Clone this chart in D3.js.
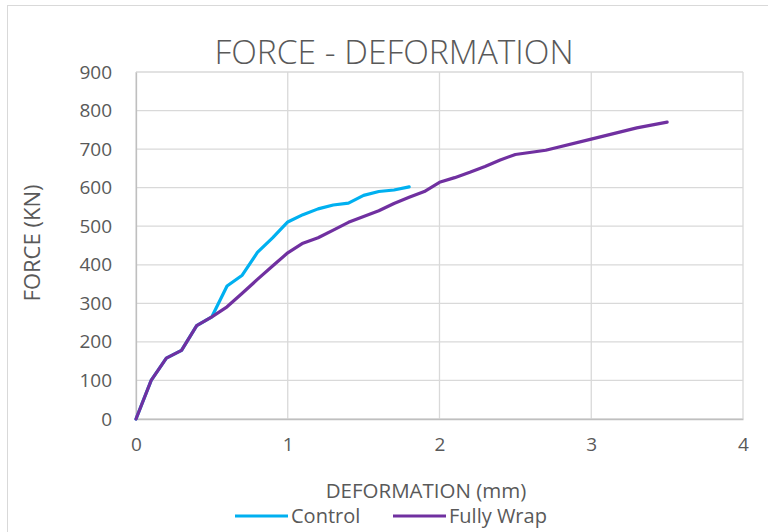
<!DOCTYPE html>
<html>
<head>
<meta charset="utf-8">
<script src="https://cdn.jsdelivr.net/npm/d3@7"></script>
<style>
  body { margin: 0; background: #fff; }
  text { font-family: "Open Sans", sans-serif; fill: #595959; }
</style>
</head>
<body>
<script>
const [width, height] = [768, 532]

// deformation (mm) and force (kN)
const controlDef = [0, 0.1, 0.2, 0.3, 0.4, 0.5, 0.6, 0.7, 0.8, 0.9, 1.0, 1.1, 1.2, 1.3, 1.4, 1.5, 1.6, 1.7, 1.8]
const controlForce = [0, 100, 158, 178, 242, 265, 345, 373, 432, 470, 511, 530, 545, 555, 560, 580, 590, 594, 602]

const wrapDef = [0, 0.1, 0.2, 0.3, 0.4, 0.5, 0.6, 0.7, 0.8, 0.9, 1.0, 1.1, 1.2, 1.3, 1.4, 1.5, 1.6, 1.7, 1.8, 1.9,
  2.0, 2.1, 2.2, 2.3, 2.4, 2.5, 2.7, 3.0, 3.3, 3.5]
const wrapForce = [0, 100, 158, 178, 242, 265, 291, 326, 362, 397, 431, 456, 470, 490, 510, 525, 540, 559, 575, 590,
  614, 626, 640, 655, 672, 686, 697, 726, 755, 770]

const xTicks = [0, 1, 2, 3, 4]
const yTicks = [0, 100, 200, 300, 400, 500, 600, 700, 800, 900]

const seriesNames = ["Control", "Fully Wrap"]
const seriesColors = ["#00b0f0", "#7030a0"]

const svg = d3.select("body")
  .append("svg")
  .attr("width", width)
  .attr("height", height)

// outer chart border
svg.append("rect")
  .attr("x", 7.5).attr("y", 5.5)
  .attr("width", 800).attr("height", 600)
  .attr("fill", "none")
  .attr("stroke", "#d9d9d9")

const x = d3.scaleLinear().domain([0, 4]).range([136, 743])
const y = d3.scaleLinear().domain([0, 900]).range([419, 72])

// gridlines
svg.append("g")
  .selectAll("line.h")
  .data(yTicks)
  .enter()
  .append("line")
    .attr("x1", x(0)).attr("x2", x(4))
    .attr("y1", d => y(d)).attr("y2", d => y(d))
    .attr("stroke", "#d9d9d9")
    .attr("stroke-width", 1.3)

svg.append("g")
  .selectAll("line.v")
  .data(xTicks)
  .enter()
  .append("line")
    .attr("x1", d => x(d)).attr("x2", d => x(d))
    .attr("y1", y(0)).attr("y2", y(900))
    .attr("stroke", "#d9d9d9")
    .attr("stroke-width", 1.3)

// axes (labels only; lines come from the grid)
const xAxis = svg.append("g")
  .attr("transform", `translate(0,${y(0)})`)
  .call(d3.axisBottom(x).tickValues(xTicks).tickSize(0).tickPadding(19).tickFormat(d3.format("d")))
xAxis.select(".domain").attr("stroke", "#bfbfbf").attr("stroke-width", 1.3)
xAxis.selectAll("text").attr("font-size", "19px").attr("fill", "#595959").style("font-family", "'Open Sans', sans-serif")

const yAxis = svg.append("g")
  .attr("transform", `translate(${x(0)},0)`)
  .call(d3.axisLeft(y).tickValues(yTicks).tickSize(0).tickPadding(24))
yAxis.select(".domain").attr("stroke", "#bfbfbf").attr("stroke-width", 1.3)
yAxis.selectAll("text").attr("font-size", "19px").attr("fill", "#595959").style("font-family", "'Open Sans', sans-serif")

// series lines
const line = d3.line()
  .x(d => x(d[0]))
  .y(d => y(d[1]))

const series = [
  d3.zip(controlDef, controlForce),
  d3.zip(wrapDef, wrapForce)
]

svg.selectAll("path.series")
  .data(series)
  .enter()
  .append("path")
    .attr("class", "series")
    .attr("d", line)
    .attr("fill", "none")
    .attr("stroke", (d, i) => seriesColors[i])
    .attr("stroke-width", 3.2)
    .attr("stroke-linejoin", "round")
    .attr("stroke-linecap", "round")

// title
svg.append("text")
  .text("FORCE - DEFORMATION")
  .attr("x", 394)
  .attr("y", 64)
  .attr("text-anchor", "middle")
  .attr("font-size", "33.5px")
  .attr("font-weight", 300)

// axis titles
svg.append("text")
  .text("DEFORMATION (mm)")
  .attr("x", 426)
  .attr("y", 498)
  .attr("text-anchor", "middle")
  .attr("font-size", "20.5px")

svg.append("text")
  .text("FORCE (KN)")
  .attr("transform", "translate(40,243) rotate(-90)")
  .attr("text-anchor", "middle")
  .attr("font-size", "22px")

// legend
const legendX = [235, 393]
const legend = svg.selectAll("g.legend")
  .data(seriesNames)
  .enter()
  .append("g")
    .attr("transform", (d, i) => `translate(${legendX[i]},516)`)

legend.append("line")
  .attr("x1", 0).attr("x2", 53)
  .attr("stroke", (d, i) => seriesColors[i])
  .attr("stroke-width", 3.2)

legend.append("text")
  .text(d => d)
  .attr("x", 56)
  .attr("y", 7)
  .attr("font-size", "20px")
</script>
</body>
</html>
